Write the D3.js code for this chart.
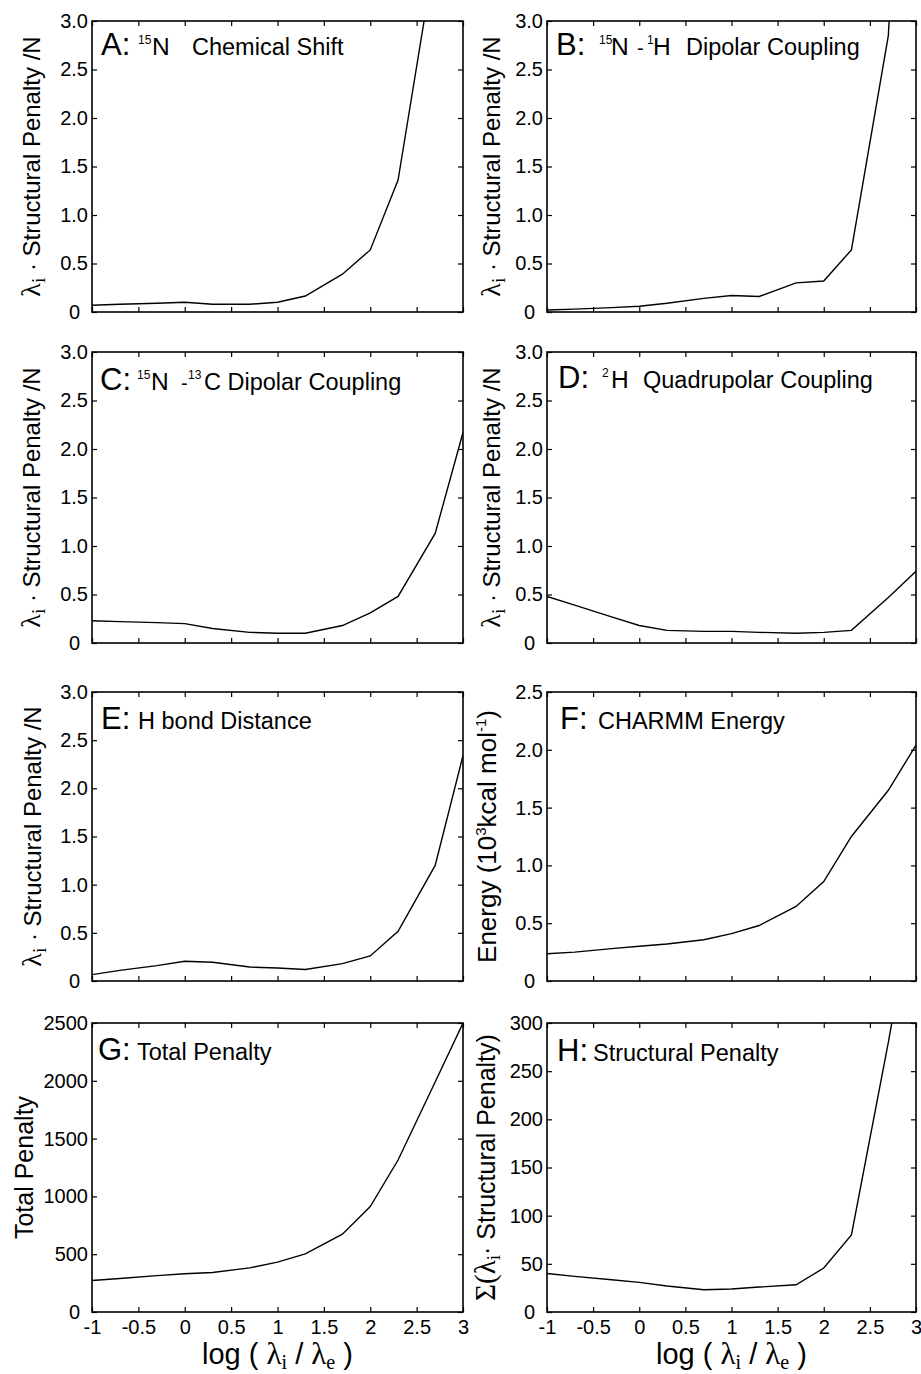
<!DOCTYPE html>
<html>
<head>
<meta charset="utf-8">
<script src="https://cdn.jsdelivr.net/npm/d3@7"></script>
<style>
  body { margin: 0; background: #fff; }
  svg { display: block; }
  text { font-family: "Liberation Sans", Arial, Helvetica, sans-serif; fill: #000; }
</style>
</head>
<body>
<svg id="svg" width="921" height="1374"></svg>
<script>
// x positions: log(lambda_i / lambda_e)
const xValues = [-1, -0.7, -0.3, 0, 0.3, 0.7, 1, 1.3, 1.7, 2, 2.3, 2.7, 3];
const xTicks = [-1, -0.5, 0, 0.5, 1, 1.5, 2, 2.5, 3];

// series
const chemShift   = [0.07, 0.08, 0.09, 0.10, 0.08, 0.08, 0.10, 0.165, 0.39, 0.64, 1.36, 3.7, 6.0];
const nhDipolar   = [0.02, 0.03, 0.045, 0.06, 0.09, 0.14, 0.17, 0.16, 0.30, 0.32, 0.64, 2.85, 8.0];
const ncDipolar   = [0.23, 0.22, 0.21, 0.20, 0.15, 0.11, 0.10, 0.10, 0.18, 0.31, 0.48, 1.13, 2.17];
const quadrupolar = [0.48, 0.39, 0.27, 0.18, 0.13, 0.12, 0.12, 0.11, 0.10, 0.11, 0.13, 0.47, 0.74];
const hbond       = [0.066, 0.11, 0.16, 0.205, 0.194, 0.145, 0.135, 0.12, 0.18, 0.26, 0.516, 1.2, 2.34];
const charmm      = [0.236, 0.25, 0.28, 0.30, 0.32, 0.357, 0.41, 0.48, 0.645, 0.86, 1.25, 1.65, 2.04];
const totalPen    = [273, 290, 315, 331, 342, 382, 432, 503, 673, 912, 1315, 1990, 2500];
const structPen   = [40, 37, 33.5, 30.7, 27, 23.1, 23.8, 25.9, 28.3, 45.6, 80, 280, 440];

const penaltyTicks = [0, 0.5, 1, 1.5, 2, 2.5, 3];
const energyTicks  = [0, 0.5, 1, 1.5, 2, 2.5];
const totalTicks   = [0, 500, 1000, 1500, 2000, 2500];
const structTicks  = [0, 50, 100, 150, 200, 250, 300];

const svg = d3.select("#svg");
const SANS = '"Liberation Sans", Arial, Helvetica, sans-serif';
const SERIF = '"Liberation Serif", "Times New Roman", serif';

const cols = [[92, 463], [547, 916]];
const rows = [[21, 312], [352, 643], [692, 981], [1023, 1312]];

const fmtPen = d => d === 0 ? "0" : d3.format(".1f")(d);
const fmtInt = d => String(d);

// y label pieces
const lambdaLabel = [
    { t: "λ", font: SERIF, size: 28 },
    { t: "i", font: SERIF, size: 19, shift: 5 },
    { t: " · ", size: 24 },
    { t: "Structural Penalty /N", size: 24 }
];
const energyLabel = [
    { t: "Energy (10", size: 26 },
    { t: "3", size: 15, shift: -10 },
    { t: "kcal mol", size: 26 },
    { t: "-1", size: 15, shift: -10 },
    { t: ")", size: 26 }
];
const totalLabel = [{ t: "Total Penalty", size: 25 }];
const sigmaLabel = [
    { t: "Σ(λ", font: SERIF, size: 29 },
    { t: "i", font: SERIF, size: 19, shift: 5 },
    { t: "· Structural Penalty)", size: 25 }
];

const panels = [
    { values: chemShift, ticks: penaltyTicks, max: 3, fmt: fmtPen, col: 0, row: 0, label: lambdaLabel, labelX: 40, titleY: 34,
      title: [["A:", 9, 31], ["15", 46, 12, true], ["N", 60, 24.5], ["Chemical Shift", 100, 23.5]] },
    { values: nhDipolar, ticks: penaltyTicks, max: 3, fmt: fmtPen, col: 1, row: 0, label: lambdaLabel, labelX: 500, titleY: 34,
      title: [["B:", 9, 31], ["15", 52, 12, true], ["N", 64, 24.5], ["-", 90, 20], ["1", 100, 12, true], ["H", 106, 24.5], ["Dipolar Coupling", 139, 23.5]] },
    { values: ncDipolar, ticks: penaltyTicks, max: 3, fmt: fmtPen, col: 0, row: 1, label: lambdaLabel, labelX: 40, titleY: 38,
      title: [["C:", 8, 31], ["15", 45, 12, true], ["N", 59, 24.5], ["-", 89, 20], ["13", 96, 12, true], ["C Dipolar Coupling", 112, 23.5]] },
    { values: quadrupolar, ticks: penaltyTicks, max: 3, fmt: fmtPen, col: 1, row: 1, label: lambdaLabel, labelX: 500, titleY: 36,
      title: [["D:", 11, 31], ["2", 55, 12, true], ["H", 64, 24.5], ["Quadrupolar Coupling", 96, 23.5]] },
    { values: hbond, ticks: penaltyTicks, max: 3, fmt: fmtPen, col: 0, row: 2, label: lambdaLabel, labelX: 41, titleY: 37,
      title: [["E:", 9, 31], ["H bond Distance", 46, 23.5]] },
    { values: charmm, ticks: energyTicks, max: 2.5, fmt: fmtPen, col: 1, row: 2, label: energyLabel, labelX: 496, titleY: 37,
      title: [["F:", 13, 31], ["CHARMM Energy", 51, 23.5]] },
    { values: totalPen, ticks: totalTicks, max: 2500, fmt: fmtInt, col: 0, row: 3, label: totalLabel, labelX: 33, titleY: 37, xlab: true,
      title: [["G:", 6, 31], ["Total Penalty", 45, 23.5]] },
    { values: structPen, ticks: structTicks, max: 300, fmt: fmtInt, col: 1, row: 3, label: sigmaLabel, labelX: 495, titleY: 38, xlab: true,
      title: [["H:", 10, 31], ["Structural Penalty", 46, 23.5]] }
];

const defs = svg.append("defs");

panels.forEach((p, i) => {
    const [x0, x1] = cols[p.col];
    const [y0, y1] = rows[p.row];
    const x = d3.scaleLinear().domain([-1, 3]).range([x0, x1]);
    const y = d3.scaleLinear().domain([0, p.max]).range([y1, y0]);
    const g = svg.append("g");

    defs.append("clipPath").attr("id", "clip" + i)
        .append("rect").attr("x", x0).attr("y", y0).attr("width", x1 - x0).attr("height", y1 - y0);

    // inward ticks on all four sides
    const bottom = g.append("g").attr("transform", `translate(0,${y1})`)
        .call(d3.axisBottom(x).tickValues(xTicks).tickSizeInner(-5).tickSizeOuter(0).tickPadding(8)
            .tickFormat(p.xlab ? fmtInt : ""));
    g.append("g").attr("transform", `translate(0,${y0})`)
        .call(d3.axisTop(x).tickValues(xTicks).tickSizeInner(-5).tickSizeOuter(0).tickFormat(""));
    const left = g.append("g").attr("transform", `translate(${x0},0)`)
        .call(d3.axisLeft(y).tickValues(p.ticks).tickSizeInner(-5).tickSizeOuter(0).tickPadding(4).tickFormat(p.fmt));
    g.append("g").attr("transform", `translate(${x1},0)`)
        .call(d3.axisRight(y).tickValues(p.ticks).tickSizeInner(-5).tickSizeOuter(0).tickFormat(""));

    g.selectAll(".domain").remove();
    g.selectAll(".tick line").attr("stroke", "#000").attr("stroke-width", 1.2);
    g.selectAll(".tick text").attr("font-family", SANS).attr("font-size", 20).attr("fill", "#000");
    bottom.selectAll(".tick text").attr("dy", "0.72em");
    // the zero label sits a little further out, as in the original
    left.selectAll(".tick text").filter(d => d === 0).attr("dx", -8);

    g.append("rect").attr("x", x0).attr("y", y0).attr("width", x1 - x0).attr("height", y1 - y0)
        .attr("fill", "none").attr("stroke", "#000").attr("stroke-width", 1.6);

    g.append("path")
        .datum(xValues.map((v, k) => [v, p.values[k]]))
        .attr("clip-path", `url(#clip${i})`)
        .attr("fill", "none").attr("stroke", "#000").attr("stroke-width", 1.4)
        .attr("d", d3.line().x(d => x(d[0])).y(d => y(d[1])));

    // panel title
    const title = g.append("text");
    p.title.forEach(([t, off, size, sup]) => {
        title.append("tspan").attr("x", x0 + off).attr("y", y0 + p.titleY - (sup ? 11 : 0))
            .attr("font-size", size).text(t);
    });

    // y axis label
    const yc = (y0 + y1) / 2;
    const lab = g.append("text").attr("text-anchor", "middle")
        .attr("transform", `translate(${p.labelX},${yc}) rotate(-90)`)
        .style("white-space", "pre");
    let cur = 0;
    p.label.forEach(s => {
        const shift = s.shift || 0;
        lab.append("tspan").attr("dy", shift - cur).attr("font-size", s.size)
            .attr("font-family", s.font || SANS).text(s.t);
        cur = shift;
    });

    // x axis label
    if (p.xlab) {
        const xl = g.append("text").attr("text-anchor", "middle")
            .attr("x", (x0 + x1) / 2).attr("y", 1364)
            .style("white-space", "pre");
        const parts = [
            { t: "log ( ", size: 29 },
            { t: "λ", font: SERIF, size: 31 },
            { t: "i", font: SERIF, size: 20, shift: 5 },
            { t: " / ", size: 29 },
            { t: "λ", font: SERIF, size: 31 },
            { t: "e", font: SERIF, size: 20, shift: 5 },
            { t: " )", size: 29 }
        ];
        let c = 0;
        parts.forEach(s => {
            const shift = s.shift || 0;
            xl.append("tspan").attr("dy", shift - c).attr("font-size", s.size)
                .attr("font-family", s.font || SANS).text(s.t);
            c = shift;
        });
    }
});
</script>
</body>
</html>
